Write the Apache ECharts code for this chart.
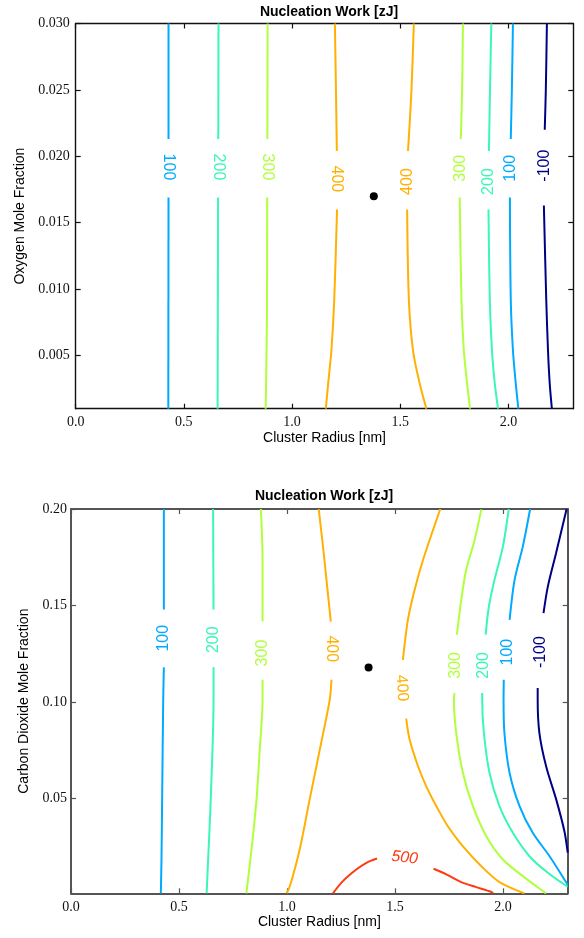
<!DOCTYPE html>
<html><head><meta charset="utf-8">
<script src="https://cdn.jsdelivr.net/npm/echarts@6/dist/echarts.min.js"></script>
<style>html,body{margin:0;padding:0;background:#fff}#c{width:584px;height:938px}</style>
</head><body><div id="c"></div>
<script>
// ---- tick labels ----
const xTicks = [0.0, 0.5, 1.0, 1.5, 2.0];
const yTicksO2 = [0.005, 0.010, 0.015, 0.020, 0.025, 0.030];
const yTicksCO2 = [0.05, 0.10, 0.15, 0.20];

// ---- top panel (oxygen) contour lines ----
const o2_100L_a = [[0.429,0.030],[0.429,0.0213]];
const o2_100L_b = [[0.429,0.0169],[0.428,0.001]];
const o2_200L_a = [[0.660,0.030],[0.659,0.0213]];
const o2_200L_b = [[0.658,0.0169],[0.656,0.001]];
const o2_300L_a = [[0.887,0.030],[0.886,0.0213]];
const o2_300L_b = [[0.885,0.0169],[0.884,0.008],[0.881,0.004],[0.878,0.001]];
const o2_400L_a = [[1.198,0.030],[1.203,0.025],[1.207,0.0204]];
const o2_400L_b = [[1.208,0.0160],[1.195,0.0092],[1.182,0.0054],[1.167,0.0029],[1.156,0.001]];
const o2_400R_a = [[1.563,0.030],[1.552,0.025],[1.536,0.0204]];
const o2_400R_b = [[1.532,0.0160],[1.540,0.0092],[1.559,0.0054],[1.590,0.0029],[1.621,0.001]];
const o2_300R_a = [[1.790,0.030],[1.786,0.025],[1.780,0.0213]];
const o2_300R_b = [[1.775,0.0169],[1.783,0.0092],[1.794,0.0054],[1.809,0.0029],[1.823,0.001]];
const o2_200R_a = [[1.921,0.030],[1.915,0.025],[1.910,0.0204]];
const o2_200R_b = [[1.908,0.0160],[1.914,0.0092],[1.924,0.0054],[1.937,0.0029],[1.952,0.001]];
const o2_100R_a = [[2.021,0.030],[2.016,0.025],[2.011,0.0213]];
const o2_100R_b = [[2.007,0.0169],[2.011,0.0092],[2.021,0.0054],[2.034,0.0029],[2.046,0.001]];
const o2_m100_a = [[2.178,0.030],[2.173,0.025],[2.168,0.0220]];
const o2_m100_b = [[2.164,0.0163],[2.175,0.0092],[2.183,0.0054],[2.191,0.0029],[2.201,0.001]];
const o2Lines = [
  ['100',o2_100L_a],['100',o2_100L_b],['200',o2_200L_a],['200',o2_200L_b],
  ['300',o2_300L_a],['300',o2_300L_b],['400',o2_400L_a],['400',o2_400L_b],
  ['400',o2_400R_a],['400',o2_400R_b],['300',o2_300R_a],['300',o2_300R_b],
  ['200',o2_200R_a],['200',o2_200R_b],['100',o2_100R_a],['100',o2_100R_b],
  ['-100',o2_m100_a],['-100',o2_m100_b]
];
const o2LabelText = ['100','200','300','400','400','300','200','100','-100'];
const o2LabelPos = [[0.429,0.0192],[0.659,0.0192],[0.886,0.0192],[1.207,0.0183],[1.535,0.0181],
                    [1.779,0.0191],[1.909,0.0181],[2.009,0.0191],[2.168,0.0193]];
const o2Point = [[1.378,0.0170]];

// ---- bottom panel (carbon dioxide) contour lines ----
const co2_100L_a = [[0.430,0.200],[0.430,0.148]];
const co2_100L_b = [[0.430,0.118],[0.427,0.1012],[0.422,0.0495],[0.419,0.0185],[0.416,0.001]];
const co2_200L_a = [[0.658,0.200],[0.660,0.148]];
const co2_200L_b = [[0.660,0.118],[0.660,0.1012],[0.647,0.0495],[0.635,0.0185],[0.628,0.001]];
const co2_300L_a = [[0.879,0.200],[0.887,0.1736],[0.887,0.1417]];
const co2_300L_b = [[0.887,0.1116],[0.887,0.1012],[0.874,0.0754],[0.859,0.0495],[0.836,0.0237],[0.812,0.001]];
const co2_400L_a = [[1.147,0.200],[1.167,0.1805],[1.183,0.1633],[1.203,0.1417]];
const co2_400L_b = [[1.206,0.1116],[1.198,0.1012],[1.152,0.0754],[1.105,0.0495],[1.059,0.0237],[1.013,0.0045],[0.998,0.001]];
const co2_400R_a = [[1.710,0.200],[1.630,0.1736],[1.591,0.1581],[1.560,0.1426],[1.537,0.1219]];
const co2_400R_b = [[1.552,0.0914],[1.568,0.0806],[1.607,0.0668],[1.645,0.0564],[1.692,0.0461],[1.745,0.0357],
                    [1.814,0.0254],[1.900,0.0150],[1.984,0.0068],[2.084,0.0016],[2.100,0.001]];
const co2_300R_a = [[1.900,0.1998],[1.869,0.1840],[1.830,0.1685],[1.807,0.1529],[1.787,0.1349]];
const co2_300R_b = [[1.776,0.1047],[1.773,0.1012],[1.784,0.0840],[1.815,0.0633],[1.861,0.0461],[1.923,0.0306],
                    [2.000,0.0185],[2.092,0.0099],[2.192,0.0016],[2.200,0.001]];
const co2_200R_a = [[2.027,0.200],[2.000,0.1805],[1.961,0.1633],[1.935,0.1495],[1.920,0.1349]];
const co2_200R_b = [[1.904,0.1047],[1.904,0.1012],[1.912,0.0840],[1.938,0.0633],[1.984,0.0461],[2.046,0.0323],
                    [2.123,0.0202],[2.208,0.0116],[2.300,0.0044]];
const co2_100R_a = [[2.126,0.200],[2.092,0.1805],[2.054,0.1633],[2.031,0.1426]];
const co2_100R_b = [[2.004,0.1116],[2.003,0.1012],[2.007,0.0840],[2.031,0.0633],[2.077,0.0461],[2.138,0.0323],
                    [2.216,0.0202],[2.300,0.0054]];
const co2_m100_a = [[2.295,0.200],[2.246,0.1771],[2.208,0.1598],[2.188,0.1461]];
const co2_m100_b = [[2.161,0.1073],[2.161,0.1012],[2.169,0.0840],[2.200,0.0668],[2.247,0.0495],[2.285,0.0330],[2.300,0.0221]];
const co2_500_a = [[1.213,0.001],[1.259,0.0073],[1.321,0.0133],[1.368,0.0168],[1.417,0.0190]];
const co2_500_b = [[1.679,0.0137],[1.738,0.0108],[1.807,0.0068],[1.877,0.0042],[1.946,0.0017],[1.955,0.001]];
const co2Lines = [
  ['100',co2_100L_a],['100',co2_100L_b],['200',co2_200L_a],['200',co2_200L_b],
  ['300',co2_300L_a],['300',co2_300L_b],['400',co2_400L_a],['400',co2_400L_b],
  ['400',co2_400R_a],['400',co2_400R_b],['300',co2_300R_a],['300',co2_300R_b],
  ['200',co2_200R_a],['200',co2_200R_b],['100',co2_100R_a],['100',co2_100R_b],
  ['-100',co2_m100_a],['-100',co2_m100_b],['500',co2_500_a],['500',co2_500_b]
];
const co2LabelText = ['100','200','300','400','400','300','200','100','-100','500'];
const co2LabelPos = [[0.430,0.1331],[0.660,0.1323],[0.886,0.1254],[1.206,0.1276],[1.532,0.1073],
                     [1.779,0.1190],[1.910,0.1190],[2.023,0.1259],[2.173,0.1259],[1.545,0.0194]];
const co2Point = [[1.378,0.1179]];

// ---- styles ----
const levelColor = {'-100':'#000085','100':'#00aaff','200':'#3af7b4','300':'#b0ff3c','400':'#ffb000','500':'#ff3a12'};
const o2LabelRot = [-90,-90,-90,-90,90,90,90,90,90];
const co2LabelRot = [90,90,90,-90,-86,90,90,90,90,-6];

const chart = echarts.init(document.getElementById('c'), null, {renderer:'canvas'});
const serif = 'Liberation Serif';
const sans = 'Liberation Sans';

function xAx(grid, mirror, frame){
  return {
    gridIndex: grid, type:'value', min:0, max:2.3, position: mirror ? 'top' : 'bottom',
    name: mirror ? '' : 'Cluster Radius [nm]', nameLocation:'middle', nameGap: 22,
    nameTextStyle:{fontFamily:sans, fontSize:14, color:'#000'},
    axisLine:{show:true, onZero:false, lineStyle:{color:frame.c, width:frame.w}},
    axisTick:{show:true, inside:true, length:5, customValues:xTicks, lineStyle:{color:frame.c, width:1.2}},
    axisLabel:{show:!mirror, customValues:xTicks, formatter:v=>v.toFixed(1), fontFamily:serif, fontSize:14, color:'#111', margin:7},
    splitLine:{show:false}
  };
}
function yAx(grid, mirror, frame, min, max, ticks, dec, name, gap, margin){
  return {
    gridIndex: grid, type:'value', min:min, max:max, position: mirror ? 'right' : 'left',
    name: mirror ? '' : name, nameLocation:'middle', nameGap: gap,
    nameTextStyle:{fontFamily:sans, fontSize:14, color:'#000'},
    axisLine:{show:true, onZero:false, lineStyle:{color:frame.c, width:frame.w}},
    axisTick:{show:true, inside:true, length:5, customValues:ticks, lineStyle:{color:frame.c, width:1.2}},
    axisLabel:{show:!mirror, customValues:ticks, formatter:v=>v.toFixed(dec), fontFamily:serif, fontSize:14, color:'#111', margin:margin},
    splitLine:{show:false}
  };
}
const f0 = {c:'#111', w:1.4}, f1 = {c:'#555', w:2};

const series = [];
function addPanel(lines, labelText, labelPos, labelRot, point, xi, yi){
  lines.forEach(([lvl, pts]) => {
    series.push({type:'line', xAxisIndex:xi, yAxisIndex:yi, data:pts, symbol:'none', smooth:0.3,
      lineStyle:{color:levelColor[lvl], width:2}, silent:true, z:2});
  });
  labelText.forEach((t, i) => {
    series.push({type:'scatter', xAxisIndex:xi, yAxisIndex:yi, data:[labelPos[i]], symbolSize:1,
      itemStyle:{color:'rgba(0,0,0,0)', opacity:1}, silent:true, z:3,
      label:{show:true, position:'inside', formatter:t, rotate:labelRot[i], color:levelColor[t], opacity:1,
        fontFamily:sans, fontSize:16, fontStyle: t==='500' ? 'italic' : 'normal'}});
  });
  series.push({type:'scatter', xAxisIndex:xi, yAxisIndex:yi, data:point, symbolSize:8,
    itemStyle:{color:'#000', opacity:1}, silent:true, z:4});
}
addPanel(o2Lines, o2LabelText, o2LabelPos, o2LabelRot, o2Point, 0, 0);
addPanel(co2Lines, co2LabelText, co2LabelPos, co2LabelRot, co2Point, 2, 2);

chart.setOption({
  animation:false,
  title:[
    {text:'Nucleation Work [zJ]', left:324, top:0, textAlign:'center',
     textStyle:{fontFamily:sans, fontWeight:'bold', fontSize:14, color:'#000'}},
    {text:'Nucleation Work [zJ]', left:319, top:484, textAlign:'center',
     textStyle:{fontFamily:sans, fontWeight:'bold', fontSize:14, color:'#000'}}
  ],
  grid:[
    {left:75.7, top:23.5, width:497.6, height:385.2},
    {left:71, top:509, width:496.7, height:384.3}
  ],
  xAxis:[xAx(0,false,f0), xAx(0,true,f0), xAx(1,false,f1), xAx(1,true,f1)],
  yAxis:[
    yAx(0,false,f0,0.001,0.030,yTicksO2,3,'Oxygen Mole Fraction',47,6),
    yAx(0,true,f0,0.001,0.030,yTicksO2,3,'',0,6),
    yAx(1,false,f1,0.001,0.2,yTicksCO2,2,'Carbon Dioxide Mole Fraction',32,4),
    yAx(1,true,f1,0.001,0.2,yTicksCO2,2,'',0,4)
  ],
  series: series
});
</script>
</body></html>
